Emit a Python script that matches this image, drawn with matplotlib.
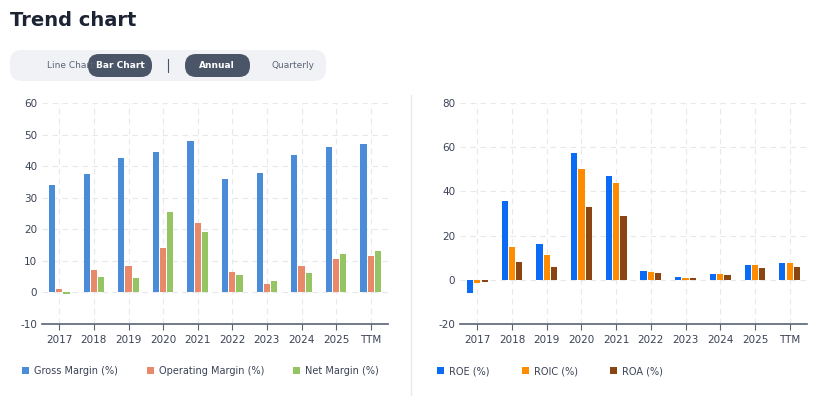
import numpy as np
import matplotlib.pyplot as plt
from matplotlib.patches import FancyBboxPatch

years = ["2017", "2018", "2019", "2020", "2021", "2022", "2023", "2024", "2025", "TTM"]
gross = [34, 37.5, 42.5, 44.5, 48, 36, 37.7, 43.5, 46, 47]
operating = [1, 7, 8.5, 14, 22, 6.6, 2.6, 8.3, 10.6, 11.6]
net = [-0.5, 5, 4.7, 25.4, 19, 5.5, 3.5, 6.1, 12.1, 13]
roe = [-6, 35.5, 16.2, 57.5, 47, 4, 1.3, 2.7, 6.8, 7.8]
roic = [-1.5, 15, 11, 50, 44, 3.7, 1, 2.5, 6.5, 7.4]
roa = [-1, 8, 6, 33, 29, 3, 1, 2, 5.5, 6]

plt.rcParams["axes.unicode_minus"] = False
txt = "#3a4255"
grid_c = "#e6e8ec"
W, H = 827, 403

fig = plt.figure(figsize=(8.27, 4.03), dpi=100)

# overlay axes in pixel coordinates for header / toggles / legends
bg = fig.add_axes([0, 0, 1, 1])
bg.set_xlim(0, W)
bg.set_ylim(H, 0)
bg.axis("off")

bg.text(10, 21, "Trend chart", fontsize=14, fontweight="bold", color="#1c2333", va="center")

def pill(x0, y0, x1, y1, color, r):
    bg.add_patch(FancyBboxPatch((x0, y0), x1 - x0, y1 - y0,
                                boxstyle=f"round,pad=0,rounding_size={r}",
                                fc=color, ec="none"))

pill(10, 50, 326, 81, "#f0f2f6", 12)
pill(88, 54, 152, 77, "#4a5568", 11)
pill(185, 54, 250, 77, "#4a5568", 11)
for x, s, c, w in [(70, "Line Chart", "#5a6275", "normal"), (120, "Bar Chart", "white", "bold"),
                   (217, "Annual", "white", "bold"), (293, "Quarterly", "#5a6275", "normal")]:
    bg.text(x, 66, s, fontsize=6.5, color=c, fontweight=w, ha="center", va="center")
bg.plot([168, 168], [59, 72], color="#4a5568", lw=0.8)
bg.plot([411, 411], [95, 395], color="#e8eaee", lw=1)


def bars(ax, series, colors, labels, ylim, yticks, legend_x):
    x = np.arange(len(years))
    w = 0.18
    for i, (vals, col) in enumerate(zip(series, colors)):
        ax.bar(x + (i - 1) * (w + 0.03), vals, w, color=col, zorder=3)
    ax.set_xlim(-0.5, len(years) - 0.5)
    ax.set_ylim(*ylim)
    ax.set_yticks(yticks)
    ax.set_xticks(x)
    ax.set_xticklabels(years)
    ax.tick_params(colors=txt, labelsize=7.5, length=0)
    ax.tick_params(axis="x", length=4, color="#5a6275", pad=4)
    ax.grid(True, color=grid_c, ls=(0, (5, 4)), lw=0.8, zorder=0)
    for s in ["top", "right", "left"]:
        ax.spines[s].set_visible(False)
    ax.spines["bottom"].set_color("#5a6275")
    ax.spines["bottom"].set_linewidth(1.2)
    for lx, lab, col in zip(legend_x, labels, colors):
        bg.add_patch(plt.Rectangle((lx, 367), 7, 7, fc=col, ec="none"))
        bg.text(lx + 12, 371, lab, fontsize=7, color=txt, va="center")


ax1 = fig.add_axes([42 / W, 1 - 324 / H, 346 / W, 221 / H])
bars(ax1, [gross, operating, net], ["#4a8cd8", "#e8896a", "#95c462"],
     ["Gross Margin (%)", "Operating Margin (%)", "Net Margin (%)"],
     (-10, 60), range(-10, 61, 10), [22, 147, 293])

ax2 = fig.add_axes([460 / W, 1 - 324 / H, 347 / W, 221 / H])
bars(ax2, [roe, roic, roa], ["#0a6cf5", "#ff8c00", "#8b4513"],
     ["ROE (%)", "ROIC (%)", "ROA (%)"],
     (-20, 80), range(-20, 81, 20), [437, 522, 610])

fig.savefig("out.png", dpi=100, facecolor="white")
